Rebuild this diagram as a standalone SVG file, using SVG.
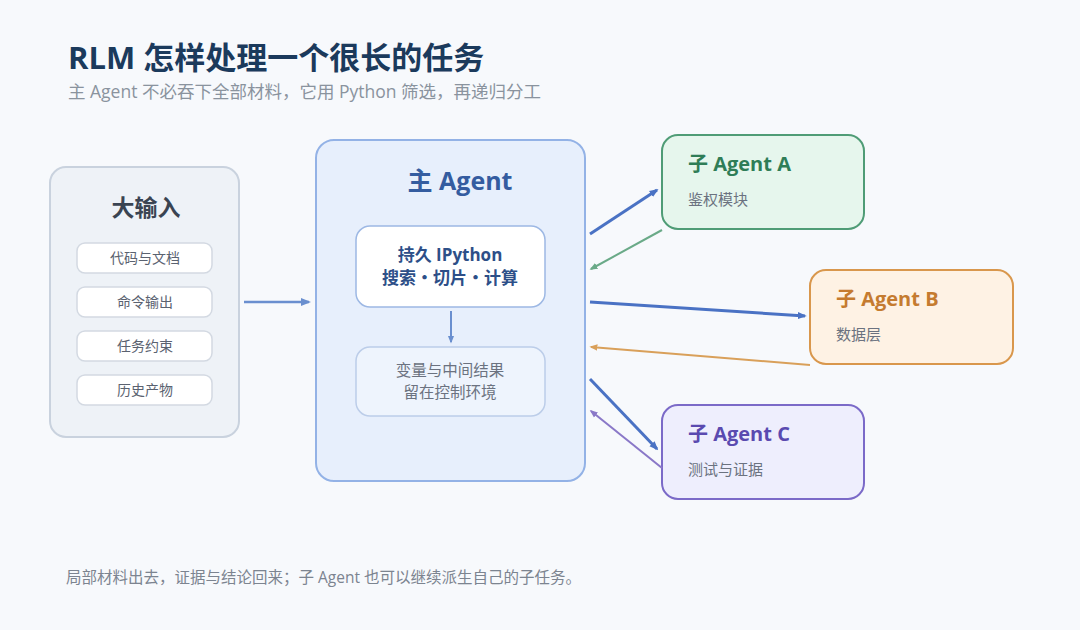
<svg xmlns="http://www.w3.org/2000/svg" width="1080" height="630" viewBox="0 0 1080 630">
<style>
text{font-family:"Open Sans","Noto Sans CJK SC",sans-serif}
.title{font-size:31px;font-weight:700;fill:#1b3a5c}
.sub{font-size:17.5px;fill:#8a939e}
.item{fill:#ffffff;stroke:#d3d9e2;stroke-width:1.5}
.itemt{font-size:14px;fill:#5a6270;text-anchor:middle}
.ctitle{font-size:20px;font-weight:700}
.cdesc{font-size:15px;fill:#6b7280}
.fwd{stroke:#4a72c4;stroke-width:3;fill:none}
.foot{font-size:15.5px;fill:#7c8490}
</style>
<defs>
<marker id="ab" viewBox="0 0 10 10" refX="8" refY="5" markerWidth="3" markerHeight="3" orient="auto"><path d="M0,1 L10,5 L0,9 z" fill="#4a72c4"/></marker>
<marker id="ag" viewBox="0 0 10 10" refX="8" refY="5" markerWidth="4" markerHeight="4" orient="auto"><path d="M0,1 L10,5 L0,9 z" fill="#6aaa88"/></marker>
<marker id="ao" viewBox="0 0 10 10" refX="8" refY="5" markerWidth="4" markerHeight="4" orient="auto"><path d="M0,1 L10,5 L0,9 z" fill="#d9a05a"/></marker>
<marker id="ap" viewBox="0 0 10 10" refX="8" refY="5" markerWidth="4" markerHeight="4" orient="auto"><path d="M0,1 L10,5 L0,9 z" fill="#8a78c8"/></marker>
<marker id="am" viewBox="0 0 10 10" refX="8" refY="5" markerWidth="4" markerHeight="4" orient="auto"><path d="M0,1 L10,5 L0,9 z" fill="#6a8fcf"/></marker>
</defs>
<rect width="1080" height="630" fill="#f7f9fc"/>
<text class="title" x="68" y="69">RLM 怎样处理一个很长的任务</text>
<text class="sub" x="68" y="98">主 Agent 不必吞下全部材料，它用 Python 筛选，再递归分工</text>

<g id="input">
<rect x="50" y="167" width="189" height="270" rx="16" fill="#eef2f7" stroke="#c9d2de" stroke-width="2"/>
<text x="146" y="216" font-size="23" font-weight="700" fill="#3a4452" text-anchor="middle">大输入</text>
<rect class="item" x="77" y="243" width="135" height="30" rx="8"/>
<text class="itemt" x="145" y="263">代码与文档</text>
<rect class="item" x="77" y="287" width="135" height="30" rx="8"/>
<text class="itemt" x="145" y="307">命令输出</text>
<rect class="item" x="77" y="331" width="135" height="30" rx="8"/>
<text class="itemt" x="145" y="351">任务约束</text>
<rect class="item" x="77" y="375" width="135" height="30" rx="8"/>
<text class="itemt" x="145" y="395">历史产物</text>
</g>

<g id="main">
<rect x="316" y="140" width="269" height="341" rx="18" fill="#e7effc" stroke="#93b2e6" stroke-width="2"/>
<text x="460" y="190" font-size="25" font-weight="700" fill="#345ca0" text-anchor="middle">主 Agent</text>
<g id="ipython">
<rect x="356" y="226" width="189" height="81" rx="14" fill="#ffffff" stroke="#9db8e4" stroke-width="1.5"/>
<text x="450" y="261" font-size="17" font-weight="700" fill="#2d4f88" text-anchor="middle">持久 IPython</text>
<text x="450" y="284" font-size="17" font-weight="700" fill="#2d4f88" text-anchor="middle">搜索・切片・计算</text>
</g>
<g id="vars">
<rect x="356" y="347" width="189" height="69" rx="14" fill="#eef4fd" stroke="#bccde9" stroke-width="1.5"/>
<text x="450" y="376" font-size="15.5" fill="#6b7280" text-anchor="middle">变量与中间结果</text>
<text x="450" y="398" font-size="15.5" fill="#6b7280" text-anchor="middle">留在控制环境</text>
</g>
</g>

<g id="agentA">
<rect x="662" y="135" width="202" height="94" rx="16" fill="#e6f6ed" stroke="#4f9c76" stroke-width="2"/>
<text class="ctitle" x="688" y="171" fill="#2f7d57">子 Agent A</text>
<text class="cdesc" x="688" y="205">鉴权模块</text>
</g>
<g id="agentB">
<rect x="810" y="270" width="203" height="94" rx="16" fill="#fef2e4" stroke="#d9974c" stroke-width="2"/>
<text class="ctitle" x="836" y="306" fill="#c57b2f">子 Agent B</text>
<text class="cdesc" x="836" y="340">数据层</text>
</g>
<g id="agentC">
<rect x="662" y="405" width="202" height="94" rx="16" fill="#eeeefd" stroke="#7b6ac8" stroke-width="2"/>
<text class="ctitle" x="688" y="441" fill="#5a4ab0">子 Agent C</text>
<text class="cdesc" x="688" y="475">测试与证据</text>
</g>

<g id="connectors">
<line x1="244" y1="302" x2="309" y2="302" stroke="#6a8fcf" stroke-width="2.5" marker-end="url(#am)"/>
<line x1="451" y1="311" x2="451" y2="342" stroke="#6a8fcf" stroke-width="2" marker-end="url(#am)"/>
<line class="fwd" x1="590" y1="234" x2="657" y2="190" marker-end="url(#ab)"/>
<line x1="662" y1="230" x2="591" y2="269" stroke="#6aaa88" stroke-width="2" marker-end="url(#ag)"/>
<line class="fwd" x1="590" y1="302" x2="805" y2="316" marker-end="url(#ab)"/>
<line x1="810" y1="365" x2="591" y2="347" stroke="#d9a05a" stroke-width="2" marker-end="url(#ao)"/>
<line class="fwd" x1="590" y1="379" x2="657" y2="449" marker-end="url(#ab)"/>
<line x1="662" y1="468" x2="591" y2="411" stroke="#8a78c8" stroke-width="2" marker-end="url(#ap)"/>
</g>

<text class="foot" x="66" y="583">局部材料出去，证据与结论回来；子 Agent 也可以继续派生自己的子任务。</text>
</svg>
